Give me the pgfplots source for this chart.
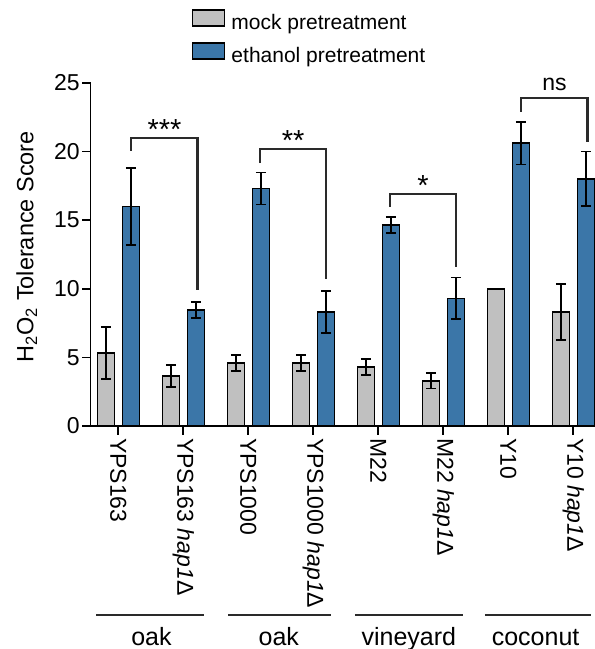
\documentclass[border=0pt]{standalone}
\usepackage{pgfplots}
\usepackage{pgfplotstable}
\pgfplotsset{compat=1.18}
\usepackage{fontspec}
\setmainfont{Liberation Sans}

\definecolor{mockgray}{HTML}{C0C0C0}
\definecolor{ethblue}{HTML}{3B76A8}
\definecolor{sigline}{HTML}{2A2A2A}

% strain, mock mean, mock error, ethanol mean, ethanol error
\pgfplotstableread{
x  m     em    b      eb
0  5.30  1.90  16.00  2.80
1  3.65  0.82  8.45   0.57
2  4.60  0.58  17.30  1.17
3  4.60  0.60  8.30   1.55
4  4.30  0.60  14.65  0.60
5  3.30  0.57  9.30   1.52
6  10.00 0.00  20.60  1.55
7  8.30  2.05  18.00  2.00
}\tolerance

\newcommand{\lbl}{\fontsize{23}{27}\selectfont}
\newcommand{\leg}{\fontsize{21}{25}\selectfont}
\newcommand{\grp}{\fontsize{25}{30}\selectfont}
\newcommand{\stars}{\fontsize{29}{30}\selectfont}

\begin{document}
\begin{tikzpicture}
\begin{axis}[
  x=65pt, y=13.73pt,
  xmin=-0.425, xmax=7.334, ymin=0, ymax=25,
  clip=false,
  ybar, bar width=17pt,
  axis x line*=bottom, axis y line*=left,
  axis line style={line width=1.6pt, black},
  tick style={line width=1.6pt, black},
  tick align=outside,
  major tick length=8.5pt,
  ytick={0,5,10,15,20,25},
  xtick={0,1,2,3,4,5,6,7},
  xticklabels={YPS163, YPS163 \textit{hap1}Δ, YPS1000, YPS1000 \textit{hap1}Δ,
               M22, M22 \textit{hap1}Δ, Y10, Y10 \textit{hap1}Δ},
  /pgf/number format/assume math mode=true,
  ticklabel style={font=\lbl},
  yticklabel style={xshift=1pt},
  xticklabel style={rotate=-90, anchor=west},
  legend style={at={(axis description cs:0.2003,1.2147)}, anchor=north west,
    draw=none, fill=none, inner sep=0pt, font=\leg,
    row sep=6pt, column sep=4pt,
    nodes={inner sep=2pt, text height=15pt, text depth=5pt}},
  legend cell align=left,
  legend image code/.code={\draw[#1, line width=1.6pt] (0pt,-1.7pt) rectangle (32pt,14.3pt);},
  error bars/error bar style={line width=1.8pt, black},
  error bars/error mark options={rotate=90, mark size=5pt, line width=1.8pt, black},
]
\addplot[bar shift=-12.3pt, fill=mockgray, draw=black, line width=1.6pt,
  error bars/.cd, y dir=both, y explicit]
  table[x=x, y=m, y error=em] {\tolerance};
\addlegendentry{mock pretreatment}
\addplot[bar shift=12.7pt, fill=ethblue, draw=black, line width=1.6pt,
  error bars/.cd, y dir=both, y explicit]
  table[x=x, y=b, y error=eb] {\tolerance};
\addlegendentry{ethanol pretreatment}

% significance brackets
\draw[sigline, line width=2.2pt] (axis cs:0.2,20.05) -- (axis cs:0.2,21.0) -- (axis cs:1.22,21.0) -- (axis cs:1.22,9.9);
\node[anchor=base, font=\stars] at (axis cs:0.71,20.9) {***};
\draw[sigline, line width=2.2pt] (axis cs:2.18,19.15) -- (axis cs:2.18,20.15) -- (axis cs:3.19,20.15) -- (axis cs:3.19,10.68);
\node[anchor=base, font=\stars] at (axis cs:2.69,20.05) {**};
\draw[sigline, line width=2.2pt] (axis cs:4.18,15.97) -- (axis cs:4.18,16.9) -- (axis cs:5.2,16.9) -- (axis cs:5.2,11.6);
\node[anchor=base, font=\stars] at (axis cs:4.69,16.8) {*};
\draw[sigline, line width=2.2pt] (axis cs:6.2,22.9) -- (axis cs:6.2,23.87) -- (axis cs:7.22,23.87) -- (axis cs:7.22,20.7);
\node[anchor=base, font=\lbl] at (axis cs:6.71,24.47) {ns};

% y axis title
\node[rotate=90, anchor=base, font=\fontsize{23.5}{28}\selectfont] at (axis cs:-1.308,13.07) {H\textsubscript{2}O\textsubscript{2} Tolerance Score};

% isolation source groups
\draw[line width=2.2pt, sigline] (axis cs:-0.34,-13.77) -- (axis cs:1.32,-13.77);
\draw[line width=2.2pt, sigline] (axis cs:1.69,-13.77) -- (axis cs:3.27,-13.77);
\draw[line width=2.2pt, sigline] (axis cs:3.64,-13.77) -- (axis cs:5.30,-13.77);
\draw[line width=2.2pt, sigline] (axis cs:5.64,-13.77) -- (axis cs:7.27,-13.77);
\node[anchor=base, font=\grp] at (axis cs:0.51,-15.95) {oak};
\node[anchor=base, font=\grp] at (axis cs:2.47,-15.95) {oak};
\node[anchor=base, font=\grp] at (axis cs:4.47,-15.95) {vineyard};
\node[anchor=base, font=\grp] at (axis cs:6.42,-15.95) {coconut};

\coordinate (bbSW) at (axis cs:-1.820,-16.24);
\coordinate (bbNE) at (axis cs:7.334,31.03);
\end{axis}
\pgfresetboundingbox
\useasboundingbox (bbSW) rectangle (bbNE);
\end{tikzpicture}
\end{document}
